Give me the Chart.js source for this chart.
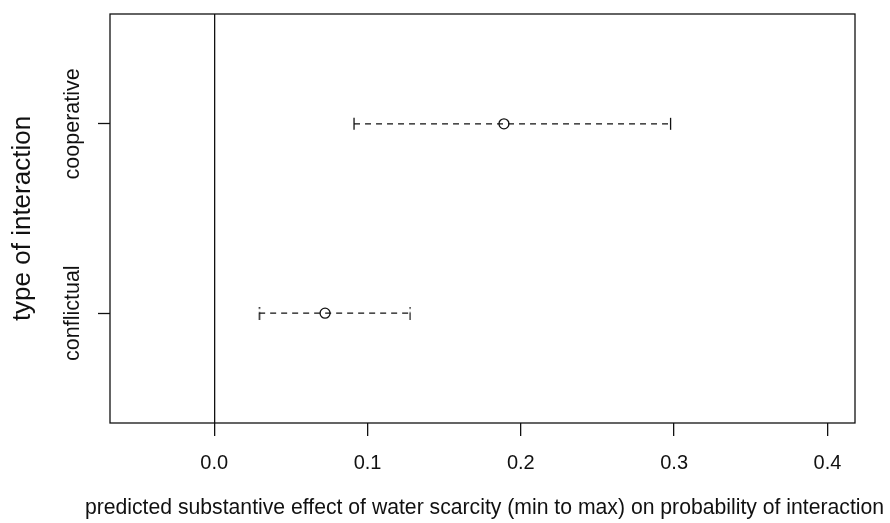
<!DOCTYPE html>
<html><head><meta charset="utf-8">
<script src="https://cdn.jsdelivr.net/npm/chart.js@4/dist/chart.umd.min.js"></script>
<style>html,body{margin:0;padding:0;background:#fff}#wrap{width:890px;height:523px}</style>
</head><body><div id="wrap"><canvas id="c" width="890" height="523"></canvas></div>
<script>
// ---- data ----
const categories = ['conflictual', 'cooperative'];
const estimates = [0.0723, 0.189];
const lowerBounds = [0.0293, 0.0912];
const upperBounds = [0.1277, 0.2977];
const xTicks = [0, 0.1, 0.2, 0.3, 0.4];
const xTitle = 'predicted substantive effect of water scarcity (min to max) on probability of interaction';
const yTitle = 'type of interaction';
const xLimits = [-0.05, 0.4];
const yLimits = [0.5, 2.5];

// ---- styling ----
const FONT = '"Liberation Sans", Arial, Helvetica, sans-serif';
const xTickSize = 20, yTickSize = 21.5, xTitleSize = 21.2, yTitleSize = 26;
const ext = (l) => { const d = (l[1] - l[0]) * 0.04; return [l[0] - d, l[1] + d]; };
const xr = ext(xLimits), yr = ext(yLimits);

const mctx = document.createElement('canvas').getContext('2d');
mctx.font = yTickSize + 'px ' + FONT;
const widest = Math.max(...categories.map(c => mctx.measureText(c).width));

// dotted-cap image (R dashed arrow head look) for the short interval
function makeCap() {
  const cv = document.createElement('canvas'); cv.width = 3; cv.height = 13;
  const g = cv.getContext('2d'); g.fillStyle = '#111';
  g.fillRect(1, 0, 1.3, 2.2); g.fillRect(1, 5.5, 1.3, 7.5);
  return cv;
}
const dottedCap = makeCap();

const intervalSets = categories.map((c, i) => ({
  label: c + ' interval',
  data: [{x: lowerBounds[i], y: i + 1}, {x: upperBounds[i], y: i + 1}],
  showLine: true,
  borderColor: '#111', borderWidth: 1.2, borderDash: [6, 5],
  pointStyle: i === 0 ? dottedCap : 'line',
  pointRotation: i === 0 ? 0 : 90,
  pointRadius: 6, pointHoverRadius: 6,
  pointBorderColor: '#111', pointBorderWidth: 1.3,
  pointBackgroundColor: '#111'
}));
const pointSet = {
  label: 'estimate',
  data: categories.map((c, i) => ({x: estimates[i], y: i + 1})),
  pointStyle: 'circle', pointRadius: 5, pointHoverRadius: 5,
  pointBorderColor: '#111', pointBorderWidth: 1.3,
  pointBackgroundColor: 'rgba(0,0,0,0)', showLine: false
};

const boxPlugin = {
  id: 'box',
  afterDraw(chart) {
    const {ctx, chartArea: a} = chart;
    ctx.save(); ctx.strokeStyle = '#111'; ctx.lineWidth = 1.3;
    ctx.strokeRect(a.left, a.top, a.right - a.left, a.bottom - a.top);
    // x-axis title (wider than the plot region, like R's mtext)
    ctx.fillStyle = '#111';
    ctx.font = xTitleSize + 'px ' + FONT;
    ctx.textAlign = 'center'; ctx.textBaseline = 'middle';
    ctx.fillText(xTitle, (a.left + a.right) / 2 + 2, chart.height - 15);
    ctx.restore();
  }
};

new Chart(document.getElementById('c'), {
  type: 'scatter',
  data: {datasets: [...intervalSets, pointSet]},
  plugins: [boxPlugin],
  options: {
    responsive: false, animation: false, devicePixelRatio: 1,
    layout: {padding: {top: 14, right: 35, left: 0, bottom: 0}},
    plugins: {legend: {display: false}, tooltip: {enabled: false}},
    scales: {
      x: {
        type: 'linear', min: xr[0], max: xr[1],
        afterBuildTicks: s => { s.ticks = xTicks.map(v => ({value: v})); },
        afterFit: s => { s.height = 100; },
        border: {display: false},
        grid: {
          drawOnChartArea: true, drawTicks: true, tickLength: 13,
          color: ctx => (ctx.tick && ctx.tick.value === 0) ? '#111' : 'rgba(0,0,0,0)',
          lineWidth: 1.3, tickColor: '#111', tickWidth: 1.3
        },
        ticks: {
          padding: 15, color: '#111', maxRotation: 0, autoSkip: false,
          font: {family: FONT, size: xTickSize},
          callback: v => Number(v).toFixed(1)
        },
        title: {display: false, text: xTitle}
      },
      y: {
        type: 'linear', min: yr[0], max: yr[1],
        afterBuildTicks: s => { s.ticks = categories.map((c, i) => ({value: i + 1})); },
        afterFit: s => { s.width = 110; },
        border: {display: false},
        grid: {drawOnChartArea: false, drawTicks: true, tickLength: 12,
          tickColor: '#111', tickWidth: 1.3},
        ticks: {
          minRotation: 90, maxRotation: 90, crossAlign: 'center',
          padding: 24.5 - widest / 2, color: '#111', autoSkip: false,
          font: {family: FONT, size: yTickSize},
          callback: v => categories[Math.round(v) - 1] || ''
        },
        title: {display: true, text: yTitle, color: '#111',
          font: {family: FONT, size: yTitleSize}, padding: {top: 23 - yTitleSize * 0.6, bottom: 0}}
      }
    }
  }
});
</script>
</body></html>
